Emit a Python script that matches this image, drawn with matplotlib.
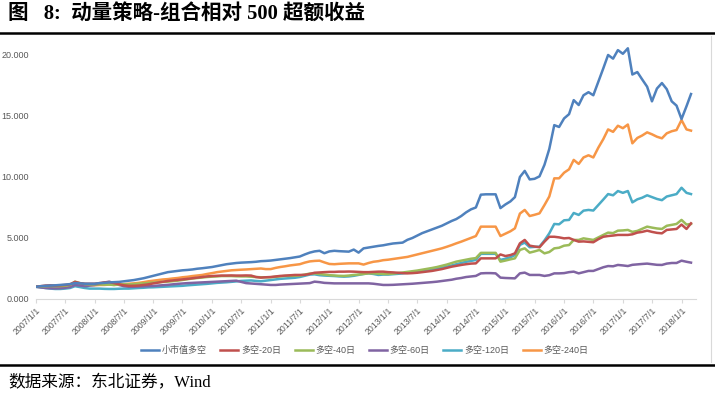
import numpy as np
import pandas as pd
import matplotlib
matplotlib.use('Agg')
import matplotlib.pyplot as plt
from matplotlib.lines import Line2D

plt.rcParams['font.family'] = ['Liberation Sans', 'Noto Sans CJK SC']

# monthly values, 2007/1 .. 2018/3
months = pd.date_range('2007-01-01', periods=135, freq='MS')

small_cap = [
    1.00, 1.05, 1.08, 1.10, 1.12, 1.15, 1.18, 1.22, 1.30, 1.28, 1.25, 1.25,
    1.25, 1.30, 1.32, 1.36, 1.38, 1.40, 1.45, 1.50, 1.55, 1.62, 1.70, 1.80,
    1.90, 2.00, 2.10, 2.20, 2.25, 2.30, 2.35, 2.38, 2.42, 2.48, 2.52, 2.57,
    2.62, 2.70, 2.78, 2.85, 2.90, 2.95, 2.98, 3.00, 3.02, 3.05, 3.10, 3.12,
    3.15, 3.20, 3.25, 3.30, 3.35, 3.42, 3.48, 3.65, 3.80, 3.90, 3.95, 3.75,
    3.90, 3.95, 3.92, 3.90, 3.88, 4.05, 3.80, 4.15, 4.22, 4.28, 4.35, 4.40,
    4.48, 4.55, 4.58, 4.62, 4.85, 5.00, 5.20, 5.40, 5.55, 5.70, 5.85, 6.00,
    6.20, 6.40, 6.55, 6.80, 7.10, 7.35, 7.50, 8.55, 8.58, 8.58, 8.58, 7.45,
    7.75, 8.00, 8.35, 10.00, 10.50, 9.80, 9.85, 10.05, 11.00, 12.30, 14.25, 14.10,
    14.80, 15.15, 16.30, 15.90, 16.70, 16.95, 16.70, 17.80, 18.90, 20.00, 19.70, 20.40,
    20.10, 20.55, 18.40, 18.60, 18.00, 17.40, 16.20, 17.25, 17.70, 17.20, 16.20, 15.85,
    14.75, 15.80, 16.80,
]
ls_20 = [
    1.00, 1.05, 1.10, 1.12, 1.10, 1.12, 1.15, 1.20, 1.40, 1.30, 1.25, 1.25,
    1.25, 1.30, 1.35, 1.38, 1.30, 1.20, 1.12, 1.08, 1.08, 1.10, 1.15, 1.20,
    1.28, 1.35, 1.42, 1.48, 1.52, 1.56, 1.60, 1.65, 1.70, 1.75, 1.80, 1.85,
    1.88, 1.90, 1.92, 1.92, 1.93, 1.92, 1.92, 1.93, 1.92, 1.80, 1.75, 1.78,
    1.80, 1.85, 1.89, 1.92, 1.95, 1.97, 1.97, 1.98, 2.05, 2.15, 2.18, 2.20,
    2.22, 2.22, 2.24, 2.24, 2.25, 2.24, 2.22, 2.20, 2.20, 2.22, 2.24, 2.24,
    2.20, 2.18, 2.15, 2.12, 2.10, 2.12, 2.15, 2.20, 2.25, 2.30, 2.38, 2.45,
    2.55, 2.65, 2.72, 2.79, 2.85, 2.90, 2.92, 3.33, 3.33, 3.33, 3.33, 3.65,
    3.52, 3.60, 3.74, 4.56, 4.84, 4.37, 4.30, 4.24, 4.70, 5.10, 5.10, 5.05,
    4.97, 5.00, 4.84, 4.70, 4.72, 4.68, 4.65, 4.90, 5.10, 5.16, 5.20, 5.25,
    5.25, 5.25, 5.30, 5.44, 5.50, 5.60, 5.50, 5.42, 5.38, 5.66, 5.70, 5.74,
    6.10, 5.74, 6.20,
]
ls_40 = [
    1.00, 1.02, 1.05, 1.06, 1.05, 1.05, 1.08, 1.15, 1.42, 1.30, 1.22, 1.20,
    1.20, 1.20, 1.18, 1.18, 1.15, 1.18, 1.20, 1.20, 1.22, 1.25, 1.28, 1.32,
    1.35, 1.38, 1.40, 1.42, 1.46, 1.50, 1.56, 1.62, 1.68, 1.72, 1.76, 1.80,
    1.83, 1.85, 1.88, 1.88, 1.88, 1.86, 1.85, 1.85, 1.82, 1.80, 1.78, 1.78,
    1.78, 1.82, 1.86, 1.89, 1.89, 1.90, 1.92, 2.00, 2.08, 2.10, 2.05, 2.00,
    1.95, 1.92, 1.90, 1.89, 1.92, 1.97, 2.00, 2.05, 2.10, 2.10, 2.08, 2.05,
    2.05, 2.08, 2.12, 2.17, 2.22, 2.28, 2.33, 2.40, 2.47, 2.54, 2.62, 2.72,
    2.82, 2.95, 3.06, 3.14, 3.22, 3.30, 3.35, 3.78, 3.78, 3.78, 3.78, 3.06,
    3.15, 3.25, 3.33, 4.02, 4.15, 3.80, 3.90, 4.02, 3.74, 3.85, 4.15, 4.20,
    4.37, 4.42, 4.84, 4.84, 4.97, 4.90, 4.84, 5.05, 5.25, 5.44, 5.40, 5.60,
    5.62, 5.66, 5.50, 5.58, 5.75, 5.93, 5.85, 5.78, 5.74, 6.00, 6.08, 6.15,
    6.48, 6.10, 6.15,
]
ls_60 = [
    1.00, 0.95, 0.90, 0.88, 0.87, 0.88, 0.92, 0.98, 1.15, 1.10, 1.05, 1.10,
    1.15, 1.25, 1.35, 1.42, 1.30, 1.15, 1.05, 1.00, 1.00, 1.02, 1.04, 1.05,
    1.07, 1.10, 1.13, 1.16, 1.20, 1.24, 1.27, 1.30, 1.32, 1.34, 1.36, 1.38,
    1.40, 1.42, 1.44, 1.46, 1.48, 1.50, 1.40, 1.30, 1.27, 1.25, 1.22, 1.18,
    1.15, 1.15, 1.18, 1.20, 1.22, 1.24, 1.26, 1.28, 1.30, 1.42, 1.38, 1.32,
    1.30, 1.28, 1.28, 1.28, 1.28, 1.28, 1.28, 1.28, 1.28, 1.25, 1.20, 1.15,
    1.15, 1.16, 1.18, 1.20, 1.22, 1.25, 1.28, 1.31, 1.35, 1.38, 1.42, 1.47,
    1.52, 1.58, 1.66, 1.72, 1.80, 1.85, 1.89, 2.10, 2.12, 2.12, 2.10, 1.75,
    1.72, 1.70, 1.69, 2.10, 2.16, 1.97, 1.97, 1.97, 1.89, 1.95, 2.10, 2.10,
    2.12, 2.20, 2.24, 2.10, 2.20, 2.30, 2.30, 2.45, 2.60, 2.70, 2.68, 2.79,
    2.75, 2.70, 2.80, 2.84, 2.87, 2.90, 2.85, 2.80, 2.79, 2.90, 2.95, 2.95,
    3.14, 3.05, 2.98,
]
ls_120 = [
    1.00, 0.95, 0.90, 0.85, 0.82, 0.82, 0.85, 0.90, 1.05, 0.98, 0.90, 0.85,
    0.85, 0.85, 0.83, 0.82, 0.82, 0.84, 0.85, 0.85, 0.88, 0.90, 0.92, 0.95,
    0.96, 0.98, 1.00, 1.02, 1.04, 1.06, 1.08, 1.12, 1.15, 1.18, 1.20, 1.24,
    1.28, 1.32, 1.34, 1.37, 1.40, 1.44, 1.48, 1.50, 1.52, 1.48, 1.45, 1.50,
    1.55, 1.60, 1.65, 1.68, 1.70, 1.74, 1.80, 1.90, 2.00, 2.02, 1.95, 1.92,
    1.90, 1.88, 1.85, 1.83, 1.85, 1.90, 1.97, 2.05, 2.10, 2.05, 1.97, 2.00,
    2.00, 2.03, 2.06, 2.10, 2.15, 2.20, 2.25, 2.30, 2.35, 2.40, 2.48, 2.55,
    2.65, 2.75, 2.85, 2.95, 3.05, 3.12, 3.20, 3.70, 3.70, 3.70, 3.70, 3.20,
    3.30, 3.42, 3.60, 4.43, 4.62, 4.24, 4.27, 4.29, 4.80, 5.38, 6.15, 6.12,
    6.45, 6.48, 7.05, 6.89, 7.24, 7.30, 7.25, 7.70, 8.15, 8.60, 8.50, 8.85,
    8.70, 8.85, 7.92, 8.17, 8.30, 8.50, 8.35, 8.20, 8.10, 8.40, 8.50, 8.60,
    9.12, 8.70, 8.60,
]
ls_240 = [
    1.00, 1.02, 1.05, 1.05, 1.03, 1.05, 1.08, 1.15, 1.30, 1.25, 1.18, 1.12,
    1.12, 1.15, 1.15, 1.18, 1.15, 1.20, 1.22, 1.25, 1.28, 1.32, 1.38, 1.45,
    1.50, 1.55, 1.60, 1.63, 1.68, 1.72, 1.78, 1.82, 1.88, 1.92, 1.97, 2.05,
    2.12, 2.20, 2.25, 2.30, 2.35, 2.38, 2.40, 2.42, 2.45, 2.48, 2.50, 2.45,
    2.45, 2.55, 2.62, 2.68, 2.75, 2.80, 2.85, 2.98, 3.08, 3.12, 3.14, 3.00,
    2.87, 2.85, 2.88, 2.90, 2.92, 2.92, 2.92, 2.82, 2.95, 3.05, 3.10, 3.18,
    3.22, 3.28, 3.33, 3.40, 3.45, 3.55, 3.65, 3.75, 3.85, 3.95, 4.05, 4.15,
    4.28, 4.42, 4.56, 4.70, 4.85, 5.00, 5.16, 5.93, 5.93, 5.93, 5.93, 5.16,
    5.35, 5.55, 5.79, 7.00, 7.30, 6.80, 6.90, 7.02, 7.70, 8.40, 9.89, 9.89,
    10.35, 10.63, 11.40, 11.07, 11.60, 11.78, 11.60, 12.40, 13.10, 13.90, 13.70, 14.20,
    14.00, 14.30, 12.76, 13.20, 13.40, 13.66, 13.50, 13.30, 13.17, 13.58, 13.75, 13.85,
    14.67, 13.90, 13.80,
]

series_names = ['小市值多空', '多空-20日', '多空-40日', '多空-60日', '多空-120日', '多空-240日']
colors = ['#4F81BD', '#C0504D', '#9BBB59', '#8064A2', '#4BACC6', '#F79646']

tick_labels = ['2007/1/1', '2007/7/1', '2008/1/1', '2008/7/1', '2009/1/1', '2009/7/1',
               '2010/1/1', '2010/7/1', '2011/1/1', '2011/7/1', '2012/1/1', '2012/7/1',
               '2013/1/1', '2013/7/1', '2014/1/1', '2014/7/1', '2015/1/1', '2015/7/1',
               '2016/1/1', '2016/7/1', '2017/1/1', '2017/7/1', '2018/1/1']
y_ticks = [0, 5, 10, 15, 20]

fig = plt.figure(figsize=(7.15, 3.97), dpi=100)
ax = fig.add_axes([0.0503, 0.2469, 0.9231, 0.6453])

all_series = [small_cap, ls_20, ls_40, ls_60, ls_120, ls_240]
# draw in reverse so the blue line sits on top
for vals, name, c in reversed(list(zip(all_series, series_names, colors))):
    ax.plot(months, vals, color=c, lw=1.8, label=name, solid_joinstyle='round')

ax.set_xlim(pd.Timestamp('2007-01-01'), pd.Timestamp('2018-04-01'))
ax.set_ylim(0, 21)

gray = '#595959'
ax.set_yticks(y_ticks)
ax.set_yticklabels(['%.3f' % v for v in y_ticks], fontsize=6.5, color=gray)
ax.tick_params(axis='y', length=0, pad=5)

ax.set_xticks(pd.to_datetime(tick_labels, format='%Y/%m/%d'))
ax.set_xticklabels(tick_labels, fontsize=6.3, color=gray, rotation=45,
                   ha='right', va='top', rotation_mode='anchor')
ax.tick_params(axis='x', length=3, color='#d9d9d9', pad=2)

for s in ['top', 'right', 'left']:
    ax.spines[s].set_visible(False)
ax.spines['bottom'].set_color('#d9d9d9')
ax.spines['bottom'].set_linewidth(0.8)

handles = [Line2D([], [], color=c, lw=1.8) for c in colors]
fig.legend(handles, series_names, loc='center', bbox_to_anchor=(0.51, 0.118),
           ncol=6, frameon=False, fontsize=6.5, handlelength=2.0,
           handletextpad=0.3, columnspacing=1.5, labelcolor=gray)

# title, rules and source
fig.text(0.011, 1 - 15 / 397, '图   8:  动量策略-组合相对 500 超额收益',
         fontsize=14.8, fontweight='bold', va='center', ha='left',
         family=['Liberation Serif', 'Noto Sans CJK SC'])
fig.add_artist(Line2D([0, 1], [1 - 33 / 397] * 2, color='black', lw=1.8))
fig.add_artist(Line2D([0, 1], [1 - 365 / 397] * 2, color='black', lw=1.8))
fig.add_artist(Line2D([711 / 715] * 2, [1 - 362 / 397, 1 - 36 / 397], color='#d9d9d9', lw=0.8))
fig.text(0.011, 1 - 383 / 397, '数据来源：东北证券，Wind', fontsize=12,
         va='center', ha='left', family=['Liberation Serif', 'Noto Sans CJK SC'])

fig.savefig('out.png', dpi=100)
